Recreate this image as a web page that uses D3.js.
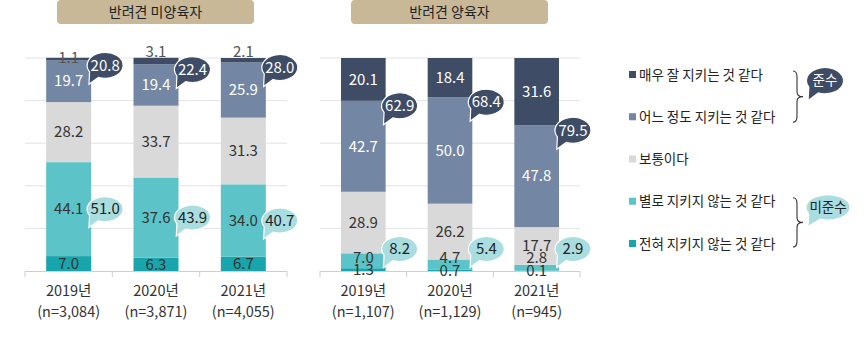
<!DOCTYPE html>
<html><head><meta charset="utf-8">
<script src="https://cdn.jsdelivr.net/npm/d3@7"></script>
<style>
html,body{margin:0;padding:0;background:#fff;}
svg{display:block;font-family:"Noto Sans CJK KR","Noto Sans",Roboto,sans-serif;}
</style></head>
<body><svg id="c" width="865" height="340"></svg>
<script>
// ---------- data ----------
const years = ["2019년", "2020년", "2021년"];
const panelTitles = ["반려견 미양육자", "반려견 양육자"];
const nonOwnerN = ["(n=3,084)", "(n=3,871)", "(n=4,055)"];
const ownerN = ["(n=1,107)", "(n=1,129)", "(n=945)"];
const seriesNames = ["매우 잘 지키는 것 같다", "어느 정도 지키는 것 같다", "보통이다", "별로 지키지 않는 것 같다", "전혀 지키지 않는 것 같다"];
const groupNames = ["준수", "미준수"];

// 반려견 미양육자
const nonOwnerVeryWell = [1.1, 3.1, 2.1];
const nonOwnerSomewhat = [19.7, 19.4, 25.9];
const nonOwnerNeutral = [28.2, 33.7, 31.3];
const nonOwnerNotMuch = [44.1, 37.6, 34.0];
const nonOwnerNever = [7.0, 6.3, 6.7];
const nonOwnerComply = [20.8, 22.4, 28.0];
const nonOwnerNoncomply = [51.0, 43.9, 40.7];

// 반려견 양육자
const ownerVeryWell = [20.1, 18.4, 31.6];
const ownerSomewhat = [42.7, 50.0, 47.8];
const ownerNeutral = [28.9, 26.2, 17.7];
const ownerNotMuch = [7.0, 4.7, 2.8];
const ownerNever = [1.3, 0.7, 0.1];
const ownerComply = [62.9, 68.4, 79.5];
const ownerNoncomply = [8.2, 5.4, 2.9];

// ---------- style ----------
const colors = ["#3e4c66", "#7386a3", "#d9d9d9", "#5cc4c8", "#18a5ab"];
const labelColors = ["#ffffff", "#ffffff", "#333333", "#333333", "#333333"];
const complyBubble = "#3e4c66", noncomplyBubble = "#a9dde0";

const svg = d3.select("#c");

function bubblePath(rx, ry) {
  const a1 = 150 * Math.PI / 180, a2 = 112 * Math.PI / 180;
  const p1 = [rx * Math.cos(a1), ry * Math.sin(a1)];
  const p2 = [rx * Math.cos(a2), ry * Math.sin(a2)];
  const tip = [-rx * 0.9, ry + 6];
  return `M${p1[0]},${p1[1]} A${rx},${ry} 0 1 1 ${p2[0]},${p2[1]} L${tip[0]},${tip[1]} Z`;
}

function drawBubble(g, cx, cy, text, fill, tcolor, rx, ry) {
  const b = g.append("g").attr("transform", `translate(${cx},${cy})`);
  b.append("path").attr("d", bubblePath(rx, ry)).attr("fill", fill)
    .attr("stroke", "#ffffff").attr("stroke-width", 1.2);
  b.append("text").attr("text-anchor", "middle").attr("dy", "0.35em")
    .attr("font-size", 15).attr("fill", tcolor).text(text);
}

function drawPanel(opt) {
  const g = svg.append("g");
  const stackRows = years.map((y, i) => ({
    year: y,
    s0: opt.series[0][i], s1: opt.series[1][i], s2: opt.series[2][i],
    s3: opt.series[3][i], s4: opt.series[4][i]
  }));
  // stack from bottom: 전혀, 별로, 보통, 어느, 매우
  const keys = ["s4", "s3", "s2", "s1", "s0"];
  const stacked = d3.stack().keys(keys)(stackRows);

  const x = d3.scaleBand().domain(years).range([opt.x0, opt.x1]).paddingInner(0.485).paddingOuter(0.2425);
  const y = d3.scaleLinear().domain([0, 100]).range([271, 58]);

  // title box
  const tb = g.append("g");
  tb.append("rect").attr("x", opt.tx0).attr("y", 0).attr("width", opt.tx1 - opt.tx0).attr("height", 24)
    .attr("rx", 4).attr("fill", "#c8b898");
  tb.append("text").attr("x", (opt.tx0 + opt.tx1) / 2).attr("y", 12).attr("dy", "0.35em")
    .attr("text-anchor", "middle").attr("font-size", 14).attr("fill", "#222").text(opt.title);

  // gridlines
  g.append("g").selectAll("line").data([20, 40, 60, 80, 100]).join("line")
    .attr("x1", opt.x0).attr("x2", opt.x1).attr("y1", d => y(d)).attr("y2", d => y(d))
    .attr("stroke", "#e3e3e3").attr("stroke-width", 1);

  // bars
  stacked.forEach((layer, li) => {
    const si = 4 - li;
    g.append("g").selectAll("rect").data(layer).join("rect")
      .attr("x", d => x(d.data.year)).attr("width", x.bandwidth())
      .attr("y", d => y(d[1])).attr("height", d => Math.max(0, y(d[0]) - y(d[1])))
      .attr("fill", colors[si]);
  });

  // axis
  const axis = d3.axisBottom(x).tickSize(0).tickFormat("");
  const ag = g.append("g").attr("transform", `translate(0,${y(0)})`).call(axis);
  ag.select(".domain").attr("stroke", "#cfcfcf").attr("d", `M${opt.x0},0.5H${opt.x1}`);
  const step = x.step();
  const tickXs = [opt.x0, ...years.map(yr => x(yr) + x.bandwidth() / 2 + step / 2)];
  ag.selectAll(".sep").data(tickXs).join("line").attr("class", "sep")
    .attr("x1", d => d).attr("x2", d => d).attr("y1", 0).attr("y2", 6).attr("stroke", "#cfcfcf");

  // x labels
  years.forEach((yr, i) => {
    const cx = x(yr) + x.bandwidth() / 2;
    g.append("text").attr("x", cx).attr("y", 291).attr("dy", "0.35em").attr("text-anchor", "middle")
      .attr("font-size", 14.5).attr("fill", "#333").text(yr);
    g.append("text").attr("x", cx).attr("y", 312).attr("dy", "0.35em").attr("text-anchor", "middle")
      .attr("font-size", 14.5).attr("fill", "#333").text(opt.n[i]);
  });

  // segment labels
  stacked.forEach((layer, li) => {
    const si = 4 - li;
    layer.forEach((d, i) => {
      const v = d[1] - d[0];
      const cx = x(d.data.year) + x.bandwidth() / 2;
      let cy = y((d[0] + d[1]) / 2);
      let col = labelColors[si];
      if (si === 0 && v < 5) { cy = y(100) - (v < 2 ? 0 : 6); col = "#555"; }
      if (si === 3) cy = Math.min(cy, y(0) - 13);
      g.append("text").attr("x", cx).attr("y", cy).attr("dy", "0.35em").attr("text-anchor", "middle")
        .attr("font-size", 15).attr("fill", col).text(d3.format(".1f")(opt.series[si][i]));
    });
  });

  // bubbles
  years.forEach((yr, i) => {
    const bx = x(yr) + x.bandwidth() + 14;
    const cyC = y(100 - opt.series[0][i]) + 5;
    drawBubble(g, bx, cyC, d3.format(".1f")(opt.comply[i]), complyBubble, "#fff", 18, 13);
    const mid = opt.series[4][i] + opt.series[3][i] / 2;
    const cyN = Math.min(y(mid), y(0) - 22);
    drawBubble(g, bx, cyN, d3.format(".1f")(opt.noncomply[i]), noncomplyBubble, "#222", 18, 12.5);
  });
}

drawPanel({
  title: panelTitles[0], x0: 25, x1: 287, tx0: 57, tx1: 254, n: nonOwnerN,
  series: [nonOwnerVeryWell, nonOwnerSomewhat, nonOwnerNeutral, nonOwnerNotMuch, nonOwnerNever],
  comply: nonOwnerComply, noncomply: nonOwnerNoncomply
});
drawPanel({
  title: panelTitles[1], x0: 320, x1: 580, tx0: 351, tx1: 548, n: ownerN,
  series: [ownerVeryWell, ownerSomewhat, ownerNeutral, ownerNotMuch, ownerNever],
  comply: ownerComply, noncomply: ownerNoncomply
});

// legend
const lg = svg.append("g");
const legY = d3.scalePoint().domain(seriesNames).range([75, 244]);
seriesNames.forEach((name, i) => {
  lg.append("rect").attr("x", 629).attr("y", legY(name) - 4).attr("width", 7).attr("height", 7).attr("fill", colors[i]);
  lg.append("text").attr("x", 639).attr("y", legY(name)).attr("dy", "0.35em")
    .attr("font-size", 13.5).attr("fill", "#222").text(name);
});
function brace(yTop, yBot) {
  const xm = 796, xc = 803, ym = (yTop + yBot) / 2;
  return `M${xm - 3},${yTop} Q${xm + 1},${yTop} ${xm + 1},${yTop + 6} L${xm + 1},${ym - 5} Q${xm + 1},${ym} ${xc},${ym}` +
    ` Q${xm + 1},${ym} ${xm + 1},${ym + 5} L${xm + 1},${yBot - 6} Q${xm + 1},${yBot} ${xm - 3},${yBot}`;
}
const gTop = legY(seriesNames[0]) - 4, gBot = legY(seriesNames[1]) + 5;
const nTop = legY(seriesNames[3]) - 4, nBot = legY(seriesNames[4]) + 3;
lg.append("path").attr("d", brace(gTop, gBot)).attr("fill", "none").attr("stroke", "#333").attr("stroke-width", 1.1);
lg.append("path").attr("d", brace(nTop, nBot)).attr("fill", "none").attr("stroke", "#333").attr("stroke-width", 1.1);
(function () {
  const b1 = lg.append("g").attr("transform", `translate(825,${(gTop + gBot) / 2 - 16})`);
  b1.append("path").attr("d", bubblePath(18, 12.5)).attr("fill", complyBubble);
  b1.append("text").attr("text-anchor", "middle").attr("dy", "0.35em").attr("font-size", 13.5).attr("fill", "#fff").text(groupNames[0]);
  const b2 = lg.append("g").attr("transform", `translate(828,${(nTop + nBot) / 2 - 15})`);
  b2.append("path").attr("d", bubblePath(21.5, 12)).attr("fill", noncomplyBubble);
  b2.append("text").attr("text-anchor", "middle").attr("dy", "0.35em").attr("font-size", 13.5).attr("fill", "#222").text(groupNames[1]);
})();
</script>
</body></html>
